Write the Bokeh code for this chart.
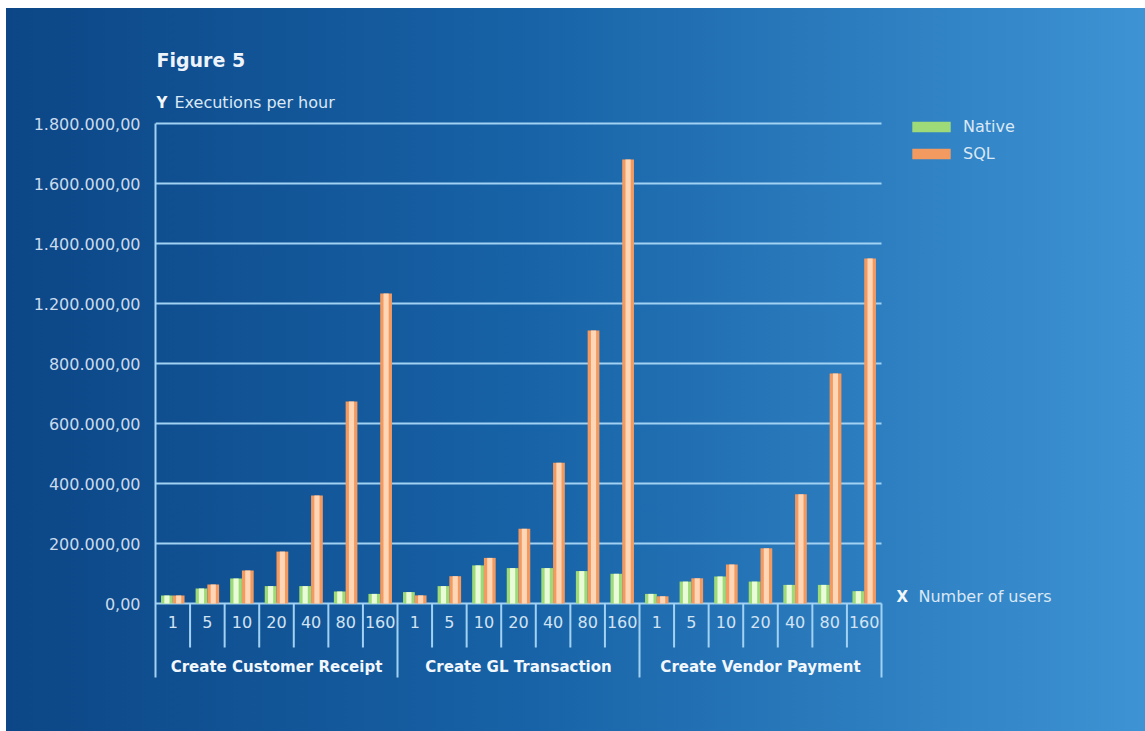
from bokeh.plotting import figure
from bokeh.models import (Range1d, FixedTicker, ColumnDataSource,
                          Label, Legend, LegendItem, LinearScale)
from bokeh.core.properties import value
from bokeh.embed import file_html
from bokeh.resources import INLINE

# ---------------- data ----------------
groups = ["Create Customer Receipt", "Create GL Transaction", "Create Vendor Payment"]
users = ["1", "5", "10", "20", "40", "80", "160"]

native_ccr = [27000, 50000, 83000, 58000, 58000, 40000, 32000]
sql_ccr = [27000, 63000, 110000, 173000, 360000, 673000, 1033000]
native_gl = [38000, 58000, 127000, 118000, 118000, 108000, 99000]
sql_gl = [27000, 91000, 152000, 249000, 469000, 910000, 1480000]
native_vp = [32000, 73000, 90000, 73000, 62000, 62000, 41000]
sql_vp = [24000, 84000, 130000, 184000, 364000, 767000, 1150000]

y_ticks = [0, 200000, 400000, 600000, 800000, 1000000, 1200000, 1400000, 1600000]
y_tick_labels = ["0,00", "200.000,00", "400.000,00", "600.000,00", "800.000,00",
                 "1.200.000,00", "1.400.000,00", "1.600.000,00", "1.800.000,00"]

title_text = "Figure 5"
y_title = "Executions per hour"
x_title = "Number of users"
series_names = ["Native", "SQL"]

# ---------------- layout (page pixels) ----------------
OX, OY = 6, 8                 # figure offset on the page
W, H = 1145 - OX, 731 - OY    # figure size
AX_X = 155                    # y-axis line / left of plot area
AREA_R = 881                  # right edge of category area
ZERO_Y = 603                  # page y of value 0
PX_PER_UNIT = 200000 / 60.0   # value units per pixel
n_cells = len(groups) * len(users)
CELL_PX = (AREA_R - AX_X) / n_cells

x_start = 0.0
x_end = (1145 - AX_X) / CELL_PX
y_end = (ZERO_Y - OY) * PX_PER_UNIT
y_start = -(731 - ZERO_Y) * PX_PER_UNIT

FONT = value("DejaVu Sans")
GRID = "#a2d2f3"

# ---------------- data sources ----------------
xs, ulab, nat, sq = [], [], [], []
all_native = [native_ccr, native_gl, native_vp]
all_sql = [sql_ccr, sql_gl, sql_vp]
for gi, g in enumerate(groups):
    for ui, u in enumerate(users):
        xs.append(gi * len(users) + ui + 0.5)
        ulab.append(u)
        nat.append(all_native[gi][ui])
        sq.append(all_sql[gi][ui])
src = ColumnDataSource(dict(xn=[x - 0.17 for x in xs], xs=[x + 0.17 for x in xs],
                            xc=xs, u=ulab, native=nat, sql=sq))

sub_x = [gi * len(users) + ui + 1 for gi in range(len(groups)) for ui in range(len(users) - 1)]
grp_x = [(gi + 1) * len(users) for gi in range(len(groups))]
grp_c = [(gi + 0.5) * len(users) for gi in range(len(groups))]

p = figure(x_range=Range1d(x_start, x_end), y_range=Range1d(y_start, y_end),
           width=W, height=H, output_backend="svg", toolbar_location=None,
           x_axis_location=None,
           min_border_left=AX_X - OX, min_border_right=0, min_border_top=0, min_border_bottom=0,
           background_fill_color=None, border_fill_color=None, outline_line_color=None)
p.styles = {"background": "linear-gradient(to right, #0c4686 0%, #1762a6 45%, #3d93d3 100%)",
            "margin-left": f"{OX}px", "margin-top": f"{OY}px"}
p.xgrid.visible = False
p.ygrid.visible = False

p.extra_x_ranges = {"px": Range1d(AX_X, 1145)}
p.extra_x_scales = {"px": LinearScale()}
p.extra_y_ranges = {"px": Range1d(731, OY)}
p.extra_y_scales = {"px": LinearScale()}

# y axis
ax = p.yaxis[0]
ax.ticker = FixedTicker(ticks=y_ticks)
ax.major_label_overrides = {t: l for t, l in zip(y_ticks, y_tick_labels)}
ax.bounds = (-(677 - ZERO_Y) * PX_PER_UNIT, y_ticks[-1])
ax.axis_line_color = GRID
ax.axis_line_width = 2
ax.major_tick_in = 0
ax.major_tick_out = 0
ax.minor_tick_line_color = None
ax.major_label_standoff = 15
ax.major_label_text_font = "DejaVu Sans"
ax.major_label_text_font_size = "16px"
ax.major_label_text_color = "#cbdbec"

# horizontal grid lines over the category area
p.segment(x0=0, x1=n_cells, y0=y_ticks, y1=y_ticks, line_color=GRID, line_width=2)

# bars (cylinder look: base + lighter centre stripe)
rn = p.vbar(x="xn", top="native", width=0.34, bottom=0, source=src,
            fill_color="#9edb78", line_color=None)
p.vbar(x="xn", top="native", width=0.15, bottom=0, source=src,
       fill_color="#e9fbd9", line_color=None)
rs = p.vbar(x="xs", top="sql", width=0.34, bottom=0, source=src,
            fill_color="#f39a60", line_color=None)
p.vbar(x="xs", top="sql", width=0.15, bottom=0, source=src,
       fill_color="#ffd6b6", line_color=None)

# category separators
p.segment(x0=sub_x, x1=sub_x, y0=0, y1=-44 * PX_PER_UNIT, line_color=GRID, line_width=2)
p.segment(x0=grp_x, x1=grp_x, y0=0, y1=-(677 - ZERO_Y) * PX_PER_UNIT,
          line_color=GRID, line_width=2)

# category labels
p.text(x="xc", y=-18 * PX_PER_UNIT, text="u", source=src, text_align="center",
       text_baseline="middle", text_font=FONT, text_font_size="16px", text_color="#d2e3f3")
p.text(x=grp_c, y=-63 * PX_PER_UNIT, text=groups, text_align="center",
       text_baseline="middle", text_font=FONT, text_font_size="15px",
       text_font_style="bold", text_color="#f2f7fc")

# titles
def lab(x, y, t, size, bold=False, color="#e3eef9"):
    p.add_layout(Label(x=x, y=y, x_range_name="px", y_range_name="px", text=t,
                       text_font="DejaVu Sans", text_font_size=size,
                       text_font_style="bold" if bold else "normal",
                       text_color=color, text_baseline="middle", text_align="left"))

lab(156, 59, title_text, "19px", True, "#eef4fb")
lab(156, 102, "Y", "15px", True, "#f2f7fc")
lab(174, 102, y_title, "16px", False, "#dbe8f5")
lab(896, 596, "X", "15px", True, "#f2f7fc")
lab(918, 596, x_title, "16px", False, "#dbe8f5")

legend = Legend(items=[LegendItem(label=series_names[0], renderers=[rn]),
                       LegendItem(label=series_names[1], renderers=[rs])],
                location=(907 - AX_X, 731 - 163), background_fill_alpha=0,
                border_line_color=None,
                glyph_width=48, glyph_height=13, label_standoff=8, spacing=7,
                padding=0, margin=0, label_height=20,
                label_text_font="DejaVu Sans", label_text_font_size="16px",
                label_text_color="#dbe8f5")
p.add_layout(legend)

open("out.html", "w").write(file_html(p, INLINE))
